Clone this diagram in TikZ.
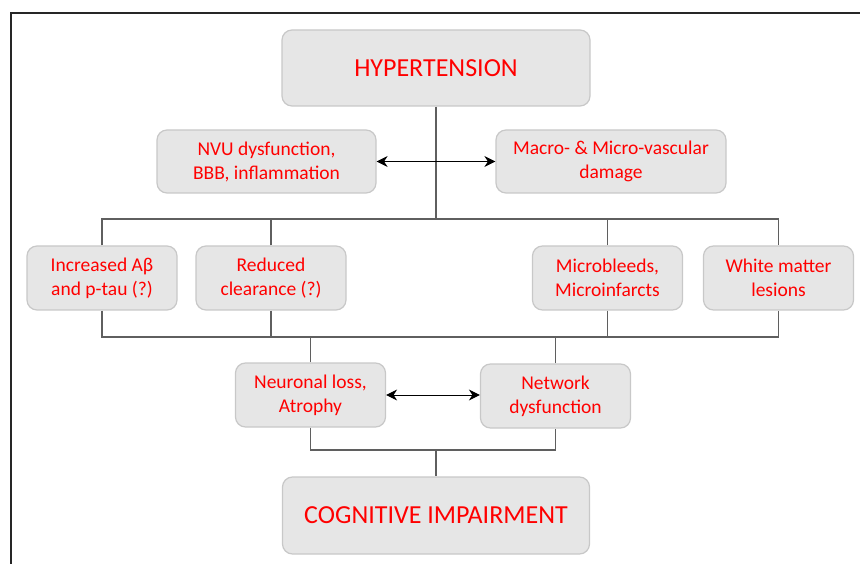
\documentclass[tikz,border=0pt]{standalone}
\usepackage{fontspec}
\setmainfont{Carlito}
\usepackage{tikz}
\usetikzlibrary{arrows.meta}
\definecolor{boxfill}{HTML}{E6E6E6}
\definecolor{boxline}{HTML}{C8C8C8}
\definecolor{txtred}{HTML}{FF0000}
\definecolor{conn}{HTML}{5F5F5F}

\begin{document}
\begin{tikzpicture}[x=1pt, y=-1pt,
  box/.style={draw=boxline, line width=1.2pt, fill=boxfill, rounded corners=10pt, text=txtred, align=center, inner sep=0pt, minimum height=64pt, minimum width=150pt, font=\fontsize{19.5}{24}\selectfont},
  big/.style={box, minimum width=308pt, minimum height=76pt, font=\fontsize{26}{30}\selectfont},
  link/.style={draw=conn, line width=1.2pt},
  both/.style={<->, >={Stealth[length=11pt,width=11pt,inset=3.5pt]}, line width=1pt, black}]
  \useasboundingbox (0,0) rectangle (860,564);
  \draw[line width=2.5pt, black!85] (11,570) -- (11,13) -- (870,13);

  \node[big] (hyp) at (436,68) {HYPERTENSION};
  \node[box, minimum width=219pt, minimum height=63pt] (nvu) at (266.5,161.5) {NVU dysfunction,\\ BBB, inflammation};
  \node[box, minimum width=230pt, minimum height=63pt] (vasc) at (611,161.5) {Macro- \& Micro-vascular\\ damage};
  \node[box] (abeta) at (102,278) {Increased Aβ\\ and p-tau (?)};
  \node[box] (clear) at (271,278) {Reduced\\ clearance (?)};
  \node[box] (micro) at (607.5,278) {Microbleeds,\\ Microinfarcts};
  \node[box] (wml) at (778.5,278) {White matter\\ lesions};
  \node[box] (neuro) at (310.5,395) {Neuronal loss,\\ Atrophy};
  \node[box] (net) at (555.5,396) {Network\\ dysfunction};
  \node[big, minimum width=307pt, minimum height=77pt] (cog) at (436,515.5) {COGNITIVE IMPAIRMENT};

  \coordinate (top) at (436,219);
  \coordinate (mid) at (436,337);
  \coordinate (low) at (436,450);

  \path[link]
  (hyp.south) -- (top)
  (abeta.north) |- (top) -| (wml.north)
  (clear.north) -- (clear.north |- top)
  (micro.north) -- (micro.north |- top)
  (abeta.south) |- (mid) -| (wml.south)
  (clear.south) -- (clear.south |- mid)
  (micro.south) -- (micro.south |- mid)
  (neuro.north) -- (neuro.north |- mid)
  (net.north) -- (net.north |- mid)
  (neuro.south) |- (low) -| (net.south)
  (low) -- (cog.north);

  \draw[both] (nvu) -- (vasc);
  \draw[both] (neuro.east) -- (net.west |- neuro.east);
\end{tikzpicture}
\end{document}
